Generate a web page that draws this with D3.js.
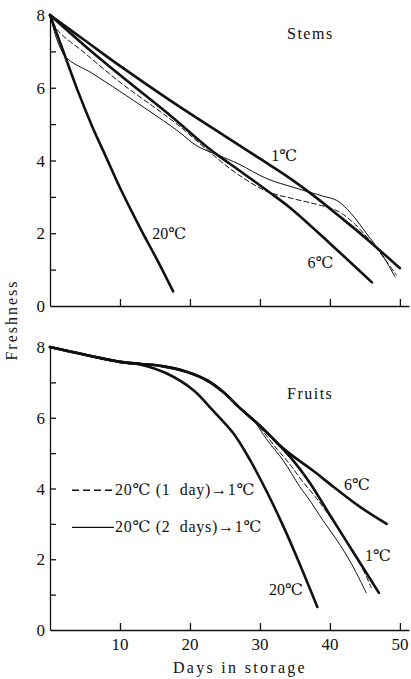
<!DOCTYPE html>
<head>
  <style>
    body { margin: 0; background: #fff; }
  </style>
<title>Freshness of stems and fruits in storage</title>
</head>

<body>

  <script src="https://cdn.jsdelivr.net/npm/d3@7"></script>

  <script>
    // data: [day, freshness]
    var stems20 = [[0,8],[2,6.95],[4,5.9],[6,4.95],[8,4.1],[10,3.25],[13,2.1],[15.5,1.2],[17.6,0.4]];
    var stems1 = [[0,8],[5,7.3],[10,6.6],[17.1,5.66],[25,4.67],[30,4.05],[34.3,3.51],[37.9,3.0],[41.4,2.46],[44.8,1.92],[50,1.04]];
    var stems6 = [[0,8],[5,7.15],[10,6.35],[17.1,5.25],[22.4,4.38],[24.3,4.1],[27.1,3.72],[31.4,3.12],[34.3,2.7],[40,1.72],[46,0.65]];
    var stemsDash = [[0,8],[1,7.6],[5,6.95],[10,6.15],[15,5.45],[18.6,4.93],[22.4,4.3],[26.7,3.64],[31,3.15],[34.3,2.97],[38,2.8],[41,2.62],[43,2.35],[44.8,2.0],[47,1.5],[49.5,0.85]];
    var stemsSolid = [[0,8],[2.1,6.88],[6,6.4],[10,5.9],[18,4.85],[21,4.4],[24,4.15],[27,3.9],[31,3.5],[35,3.25],[39,3.02],[41,2.9],[43,2.55],[45.2,2.0],[47.5,1.4],[49.3,0.8]];

    var fruitsShared = [[0,8],[5,7.78],[10,7.58],[13,7.52],[16,7.46],[19.5,7.3],[22.4,7.06],[24.8,6.72],[27,6.3],[29,5.95]];
    var fruits20 = [[0,8],[5,7.78],[10,7.58],[13,7.5],[16.7,7.25],[20.5,6.78],[23.3,6.2],[26.2,5.56],[28.6,4.8],[31,3.9],[33.3,2.95],[35.5,1.95],[38.2,0.65]];
    var fruits6Tail = [[30.5,5.68],[32.5,5.28],[34.5,4.95],[37.6,4.5],[40.5,4.05],[44.3,3.48],[48.1,3.0]];
    var fruits1Tail = [[30.5,5.68],[32.5,5.28],[34.5,4.85],[37,4.2],[40,3.25],[43.5,2.15],[47,1.05]];
    var fruitsDashTail = [[30.5,5.6],[32.5,5.1],[34.3,4.68],[36,4.22],[38.1,3.72],[40,3.2],[41.9,2.64],[44,2.0],[45.9,1.2]];
    var fruitsSolidTail = [[30.5,5.52],[31.5,5.25],[33.3,4.8],[35.7,4.05],[37.1,3.67],[39,3.1],[41,2.54],[43,1.9],[45.2,1.05]];

    var xTicks = [10, 20, 30, 40, 50];
    var yLabels = [0, 2, 4, 6, 8];
    var yMinor = [1, 2, 3, 4, 5, 6, 7];

    var serif = "'Liberation Serif', 'Times New Roman', 'DejaVu Serif', serif";

    var svg = d3.select("body").append("svg")
      .attr("width", 411)
      .attr("height", 679)
      .attr("font-family", serif);

    // x scale shared by both panels
    var x = d3.scaleLinear().domain([0, 51.3]).range([50, 409]);

    function addText(parent, px, py, str, size) {
      return parent.append("text")
        .attr("x", px)
        .attr("y", py)
        .attr("font-family", serif)
        .attr("font-size", size || 16)
        .attr("fill", "#111")
        .text(str);
    }

    function panel(yTop, yBottom, series, labels, name, namePos, showXLabels) {
      var y = d3.scaleLinear().domain([0, 8]).range([yBottom, yTop]);
      var g = svg.append("g");

      // axes (ticks point inward)
      g.append("g")
        .attr("transform", "translate(0," + yBottom + ")")
        .call(d3.axisTop(x).tickValues(xTicks).tickSize(7).tickFormat("").tickSizeOuter(0))
        .call(function(a) { a.selectAll("path, line").attr("stroke", "#111").attr("stroke-width", 1.3); });
      g.append("g")
        .attr("transform", "translate(50,0)")
        .call(d3.axisRight(y).tickValues(yMinor).tickSize(6).tickFormat("").tickSizeOuter(0))
        .call(function(a) { a.selectAll("path, line").attr("stroke", "#111").attr("stroke-width", 1.3); });

      yLabels.forEach(function(d) {
        addText(g, 45, y(d) + 6, d, 17).attr("text-anchor", "end");
      });

      if (showXLabels) {
        xTicks.forEach(function(d) {
          addText(g, x(d), yBottom + 20, d, 17).attr("text-anchor", "middle");
        });
      }

      var line = d3.line()
        .x(function(d) { return x(d[0]); })
        .y(function(d) { return y(d[1]); })
        .curve(d3.curveCatmullRom.alpha(0.5));

      series.forEach(function(s) {
        g.append("path")
          .datum(s.data)
          .attr("d", line)
          .attr("fill", "none")
          .attr("stroke", "#111")
          .attr("stroke-width", s.w)
          .attr("stroke-dasharray", s.dash || null)
          .attr("stroke-linecap", "round");
      });

      labels.forEach(function(l) {
        addText(g, x(l.day), y(l.val), l.text, 16);
      });

      addText(g, namePos[0], namePos[1], name, 16).attr("letter-spacing", 1.5);

      return y;
    }

    // Stems
    panel(15, 306, [
      {data: stemsSolid, w: 1},
      {data: stemsDash, w: 1, dash: "5,3"},
      {data: stems20, w: 2.6},
      {data: stems1, w: 2.6},
      {data: stems6, w: 2.6}
    ], [
      {day: 14.6, val: 1.85, text: "20℃"},
      {day: 31.6, val: 4.0, text: "1℃"},
      {day: 36.8, val: 1.05, text: "6℃"}
    ], "Stems", [287, 39], false);

    // Fruits
    var yF = panel(347, 630, [
      {data: fruitsShared.concat(fruitsSolidTail), w: 1},
      {data: fruitsShared.concat(fruitsDashTail), w: 1, dash: "5,3"},
      {data: fruits20, w: 2.6},
      {data: fruitsShared.concat(fruits1Tail), w: 2.6},
      {data: fruitsShared.concat(fruits6Tail), w: 2.6}
    ], [
      {day: 31.3, val: 1.0, text: "20℃"},
      {day: 45.0, val: 1.95, text: "1℃"},
      {day: 42, val: 3.95, text: "6℃"}
    ], "Fruits", [287, 399], true);

    // legend
    var legend = [
      {dash: "7,4", text: "20℃ (1  day)→1℃", val: 3.95},
      {dash: null, text: "20℃ (2  days)→1℃", val: 2.9}
    ];
    legend.forEach(function(l) {
      svg.append("line")
        .attr("x1", 72).attr("x2", 114)
        .attr("y1", yF(l.val)).attr("y2", yF(l.val))
        .attr("stroke", "#111")
        .attr("stroke-width", 1.3)
        .attr("stroke-dasharray", l.dash);
      addText(svg, 115, yF(l.val) + 5, l.text, 16)
        .attr("letter-spacing", 0.7)
        .style("white-space", "pre");
    });

    // axis titles
    addText(svg, 240, 673, "Days in storage", 16)
      .attr("text-anchor", "middle")
      .attr("letter-spacing", 2.3);

    addText(svg, 0, 0, "Freshness", 16)
      .attr("transform", "translate(17,320) rotate(-90)")
      .attr("text-anchor", "middle")
      .attr("letter-spacing", 2);
  </script>
</body>
